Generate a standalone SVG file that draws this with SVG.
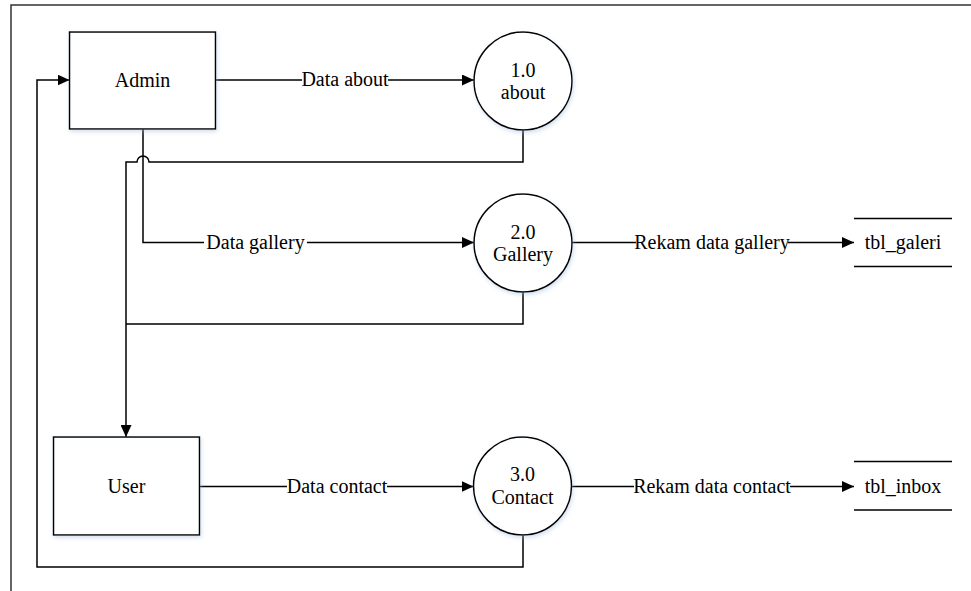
<svg xmlns="http://www.w3.org/2000/svg" width="971" height="591" viewBox="0 0 971 591">
<style>
  .shape { fill: #ffffff; stroke: #000000; stroke-width: 1.5; filter: url(#shadow); }
  .line { fill: none; stroke: #000000; stroke-width: 1.5; }
  .txt { font-family: 'Liberation Serif', 'DejaVu Serif', 'Times New Roman', Times, serif; font-size: 20px; fill: #000000; text-anchor: middle; }
  .bg { fill: #ffffff; stroke: none; }
</style>
<defs>
  <marker id="arrow" markerWidth="12" markerHeight="11" refX="12" refY="5.5" orient="auto" markerUnits="userSpaceOnUse">
    <path d="M0,0 L12,5.5 L0,11 z" fill="#000000"/>
  </marker>
  <filter id="shadow" x="-20%" y="-20%" width="140%" height="140%">
    <feDropShadow dx="1" dy="2" stdDeviation="2" flood-color="#9db8d9" flood-opacity="0.45"/>
  </filter>
</defs>
<rect width="971" height="591" fill="#ffffff"/>
<path d="M11,591 V5 H971" fill="none" stroke="#333333" stroke-width="1.5"/>

<g id="connectors">
  <path class="line" d="M215.5,80 H474" marker-end="url(#arrow)"/>
  <path class="line" d="M523,130 V162 H149 A6,6 0 0 0 137,162 H126 V437" marker-end="url(#arrow)"/>
  <path class="line" d="M143,129 V242.5 H474" marker-end="url(#arrow)"/>
  <path class="line" d="M523,292 V324 H126"/>
  <path class="line" d="M572,242.5 H854" marker-end="url(#arrow)"/>
  <path class="line" d="M199.5,486.5 H473.5" marker-end="url(#arrow)"/>
  <path class="line" d="M572,486.5 H854" marker-end="url(#arrow)"/>
  <path class="line" d="M523,535 V567 H37 V80 H69.5" marker-end="url(#arrow)"/>
  <g id="labels">
    <rect class="bg" x="302" y="71" width="86" height="18"/>
    <text class="txt" font-family="Liberation Serif, serif" x="345" y="86">Data about</text>
    <rect class="bg" x="204" y="233" width="103" height="18"/>
    <text class="txt" font-family="Liberation Serif, serif" x="255.5" y="248.5">Data gallery</text>
    <rect class="bg" x="636" y="233" width="152" height="18"/>
    <text class="txt" font-family="Liberation Serif, serif" x="712" y="248.5">Rekam data gallery</text>
    <rect class="bg" x="287" y="477" width="100" height="18"/>
    <text class="txt" font-family="Liberation Serif, serif" x="337" y="492.5">Data contact</text>
    <rect class="bg" x="634" y="477" width="156" height="18"/>
    <text class="txt" font-family="Liberation Serif, serif" x="712" y="492.5">Rekam data contact</text>
  </g>
</g>

<g id="admin">
  <rect class="shape" x="69.5" y="32" width="146" height="97"/>
  <text class="txt" font-family="Liberation Serif, serif" x="142.5" y="87">Admin</text>
</g>
<g id="user">
  <rect class="shape" x="53.5" y="437" width="146" height="98"/>
  <text class="txt" font-family="Liberation Serif, serif" x="126.5" y="492.5">User</text>
</g>
<g id="p1">
  <circle class="shape" cx="523" cy="81" r="49"/>
  <text class="txt" font-family="Liberation Serif, serif" x="523" y="76.5">1.0</text>
  <text class="txt" font-family="Liberation Serif, serif" x="523" y="98.5">about</text>
</g>
<g id="p2">
  <circle class="shape" cx="523" cy="243" r="49"/>
  <text class="txt" font-family="Liberation Serif, serif" x="523" y="238.5">2.0</text>
  <text class="txt" font-family="Liberation Serif, serif" x="523" y="261">Gallery</text>
</g>
<g id="p3">
  <circle class="shape" cx="522.5" cy="486" r="49"/>
  <text class="txt" font-family="Liberation Serif, serif" x="522.5" y="481">3.0</text>
  <text class="txt" font-family="Liberation Serif, serif" x="522.5" y="504">Contact</text>
</g>
<g id="tbl_galeri">
  <path class="line" d="M854,218.5 H952 M854,266.5 H952"/>
  <text class="txt" font-family="Liberation Serif, serif" x="903" y="249">tbl_galeri</text>
</g>
<g id="tbl_inbox">
  <path class="line" d="M854,461.5 H952 M854,510 H952"/>
  <text class="txt" font-family="Liberation Serif, serif" x="903" y="492.5">tbl_inbox</text>
</g>
</svg>
